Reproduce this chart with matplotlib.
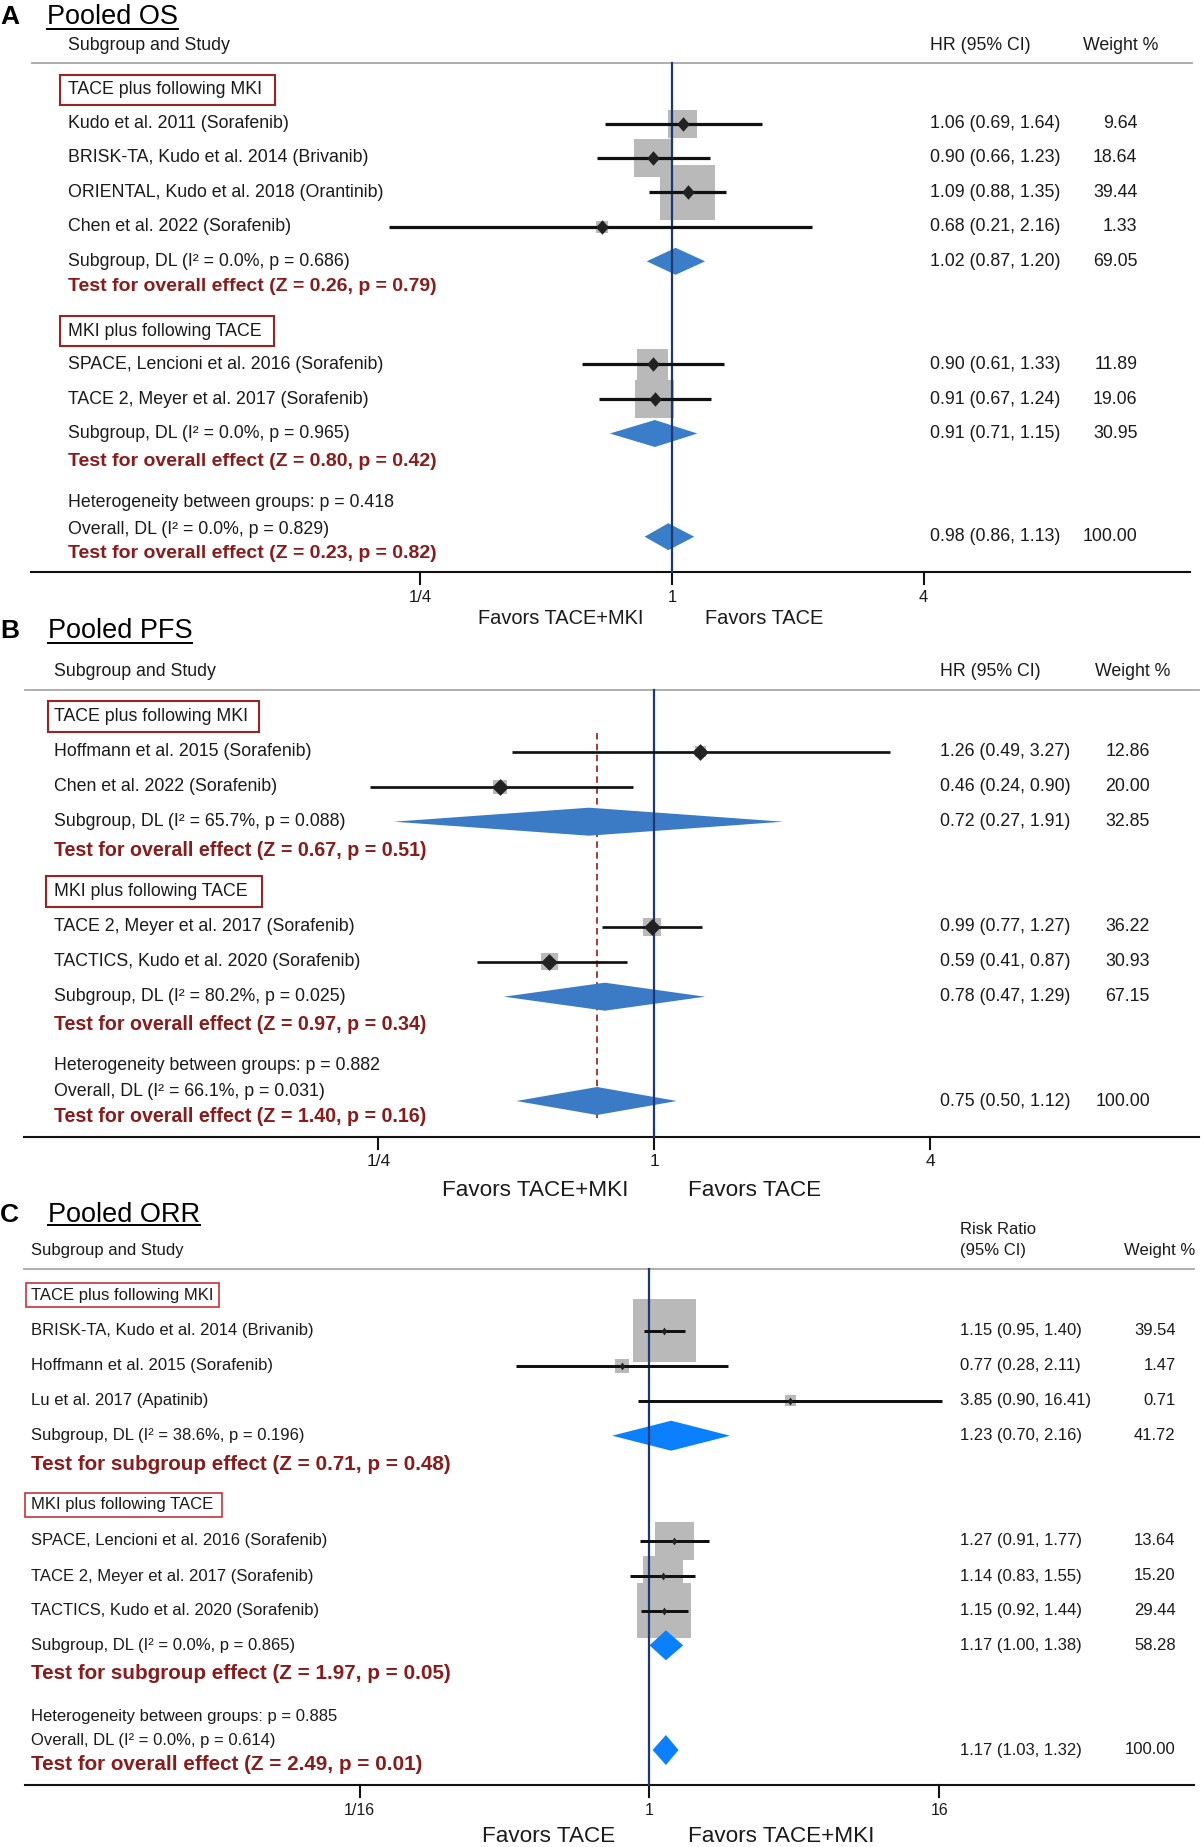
import matplotlib.pyplot as plt
from matplotlib.patches import Rectangle, Polygon

plt.rcParams['font.family'] = ['Liberation Sans', 'DejaVu Sans']

W, H = 1204, 1847

# ---------------- A: pooled OS ----------------
os_study = ["Kudo et al. 2011 (Sorafenib)",
            "BRISK-TA, Kudo et al. 2014 (Brivanib)",
            "ORIENTAL, Kudo et al. 2018 (Orantinib)",
            "Chen et al. 2022 (Sorafenib)",
            "SPACE, Lencioni et al. 2016 (Sorafenib)",
            "TACE 2, Meyer et al. 2017 (Sorafenib)"]
os_hr = [1.06, 0.90, 1.09, 0.68, 0.90, 0.91]
os_lo = [0.69, 0.66, 0.88, 0.21, 0.61, 0.67]
os_hi = [1.64, 1.23, 1.35, 2.16, 1.33, 1.24]
os_wt = [9.64, 18.64, 39.44, 1.33, 11.89, 19.06]
os_sub_hr = [1.02, 0.91, 0.98]
os_sub_lo = [0.87, 0.71, 0.86]
os_sub_hi = [1.20, 1.15, 1.13]
os_sub_wt = [69.05, 30.95, 100.00]
os_sub_i2 = ["0.0%", "0.0%", "0.0%"]
os_sub_p = ["0.686", "0.965", "0.829"]
os_z = ["0.26", "0.80", "0.23"]
os_zp = ["0.79", "0.42", "0.82"]
os_het = "0.418"

# ---------------- B: pooled PFS ----------------
pfs_study = ["Hoffmann et al. 2015 (Sorafenib)",
             "Chen et al. 2022 (Sorafenib)",
             "TACE 2, Meyer et al. 2017 (Sorafenib)",
             "TACTICS, Kudo et al. 2020 (Sorafenib)"]
pfs_hr = [1.26, 0.46, 0.99, 0.59]
pfs_lo = [0.49, 0.24, 0.77, 0.41]
pfs_hi = [3.27, 0.90, 1.27, 0.87]
pfs_wt = [12.86, 20.00, 36.22, 30.93]
pfs_sub_hr = [0.72, 0.78, 0.75]
pfs_sub_lo = [0.27, 0.47, 0.50]
pfs_sub_hi = [1.91, 1.29, 1.12]
pfs_sub_wt = [32.85, 67.15, 100.00]
pfs_sub_i2 = ["65.7%", "80.2%", "66.1%"]
pfs_sub_p = ["0.088", "0.025", "0.031"]
pfs_z = ["0.67", "0.97", "1.40"]
pfs_zp = ["0.51", "0.34", "0.16"]
pfs_het = "0.882"

# ---------------- C: pooled ORR ----------------
orr_study = ["BRISK-TA, Kudo et al. 2014 (Brivanib)",
             "Hoffmann et al. 2015 (Sorafenib)",
             "Lu et al. 2017 (Apatinib)",
             "SPACE, Lencioni et al. 2016 (Sorafenib)",
             "TACE 2, Meyer et al. 2017 (Sorafenib)",
             "TACTICS, Kudo et al. 2020 (Sorafenib)"]
orr_rr = [1.15, 0.77, 3.85, 1.27, 1.14, 1.15]
orr_lo = [0.95, 0.28, 0.90, 0.91, 0.83, 0.92]
orr_hi = [1.40, 2.11, 16.41, 1.77, 1.55, 1.44]
orr_wt = [39.54, 1.47, 0.71, 13.64, 15.20, 29.44]
orr_sub_rr = [1.23, 1.17, 1.17]
orr_sub_lo = [0.70, 1.00, 1.03]
orr_sub_hi = [2.16, 1.38, 1.32]
orr_sub_wt = [41.72, 58.28, 100.00]
orr_sub_i2 = ["38.6%", "0.0%", "0.0%"]
orr_sub_p = ["0.196", "0.865", "0.614"]
orr_z = ["0.71", "1.97", "2.49"]
orr_zp = ["0.48", "0.05", "0.01"]
orr_het = "0.885"

groups = ["TACE plus following MKI", "MKI plus following TACE"]

TXT = '#1a1a1a'
RED = '#8b1a1a'
NAVY = '#1f3774'
GRAY = '#b9b9b9'

fig = plt.figure(figsize=(W / 100, H / 100), dpi=100)


def fx(p):
    return p / W


def panel(L, study, est, lo, hi, wt, s_est, s_lo, s_hi, s_wt, s_i2, s_p, zs, zps, het):
    ax = fig.add_axes([0, 0, 1, 1])
    ax.set_xscale('log', base=2)
    ax.set_xlim(2 ** (-L['null'] / L['per']), 2 ** ((W - L['null']) / L['per']))
    ax.set_ylim(H, 0)
    ax.axis('off')
    ax.patch.set_alpha(0)
    tr = ax.get_yaxis_transform()
    fs = L['fs']

    # panel letter and underlined title
    ax.text(fx(0), L['title_y'] + 1, L['letter'], transform=tr, ha='left', va='center',
            fontsize=19, fontweight='bold', color='black')
    tt = ax.text(fx(L['title_x']), L['title_y'] + 1, L['title'], transform=tr, ha='left',
                 va='center', fontsize=19.5, color='black')
    L['_title'] = (ax, tt)

    # column headers
    ax.text(fx(L['xl']), L['head_y'], "Subgroup and Study", transform=tr, ha='left',
            va='center', fontsize=fs, color=TXT)
    for k, line in enumerate(L['col_head']):
        ax.text(fx(L['col_x']), L['col_head_y'][k], line, transform=tr, ha='left',
                va='center', fontsize=fs, color=TXT)
    ax.text(fx(L['wt_head']), L['head_y'], "Weight %", transform=tr, ha='left',
            va='center', fontsize=fs, color=TXT)
    ax.plot([fx(L['line_x'][0]), fx(L['line_x'][1])], [L['gray_y']] * 2, transform=tr,
            color='#a8a8a8', lw=1.3, clip_on=False)

    # group headers in red boxes
    for g in range(2):
        yb = L['box_y'][g]
        x0, x1 = L['box_x'][g]
        ax.add_patch(Rectangle((fx(x0), yb - L['box_h'] / 2), fx(x1 - x0), L['box_h'],
                               transform=tr, fill=False, ec=L['box_ec'], lw=L['box_lw'],
                               clip_on=False))
        ax.text(fx(L['xl']), yb, groups[g], transform=tr, ha='left', va='center',
                fontsize=fs, color=TXT)

    # studies
    k, c = L['box_k']
    dm = L['dmark']
    verts = [(0, 1), (dm[0] / dm[1], 0), (0, -1), (-dm[0] / dm[1], 0)]
    for i, name in enumerate(study):
        y = L['study_y'][i]
        ax.text(fx(L['xl']), y, name, transform=tr, ha='left', va='center',
                fontsize=fs, color=TXT)
        side = k * wt[i] ** 0.5 + c
        half = side / 2 / L['per']
        x0, x1 = est[i] * 2 ** (-half), est[i] * 2 ** half
        ax.add_patch(Rectangle((x0, y - side / 2), x1 - x0, side, fc=GRAY, ec='none',
                               zorder=2))
        ax.plot([lo[i], hi[i]], [y, y], color='#111111', lw=L['ci_lw'], zorder=5,
                solid_capstyle='butt')
        ax.plot([est[i]], [y], marker=verts, ms=dm[1] / 1.389, color='#222222',
                mec='none', zorder=6)
        ax.text(fx(L['col_x']), y, f"{est[i]:.2f} ({lo[i]:.2f}, {hi[i]:.2f})",
                transform=tr, ha='left', va='center', fontsize=fs, color=TXT)
        ax.text(fx(L['wt_r']), y, f"{wt[i]:.2f}", transform=tr, ha='right',
                va='center', fontsize=fs, color=TXT)

    # pooled diamonds (two subgroups + overall)
    dy = L['dia_h'] / 2
    d_y = L['sub_y'] + [L['all_d']]
    for j in range(3):
        y = d_y[j]
        ax.add_patch(Polygon([(s_lo[j], y), (s_est[j], y - dy), (s_hi[j], y),
                              (s_est[j], y + dy)], closed=True, fc=L['dia_c'],
                             ec='none', zorder=3))
        ax.text(fx(L['col_x']), y, f"{s_est[j]:.2f} ({s_lo[j]:.2f}, {s_hi[j]:.2f})",
                transform=tr, ha='left', va='center', fontsize=fs, color=TXT)
        ax.text(fx(L['wt_r']), y, f"{s_wt[j]:.2f}", transform=tr, ha='right',
                va='center', fontsize=fs, color=TXT)
        if j < 2:
            ax.text(fx(L['xl']), y, f"Subgroup, DL (I² = {s_i2[j]}, p = {s_p[j]})",
                    transform=tr, ha='left', va='center', fontsize=fs, color=TXT)
            word = L['test_word']
            ty = L['test_y'][j]
        else:
            ax.text(fx(L['xl']), L['het_y'], f"Heterogeneity between groups: p = {het}",
                    transform=tr, ha='left', va='center', fontsize=fs, color=TXT)
            ax.text(fx(L['xl']), L['all_y'], f"Overall, DL (I² = {s_i2[j]}, p = {s_p[j]})",
                    transform=tr, ha='left', va='center', fontsize=fs, color=TXT)
            word = 'overall'
            ty = L['all_test']
        ax.text(fx(L['xl']), ty, f"Test for {word} effect (Z = {zs[j]}, p = {zps[j]})",
                transform=tr, ha='left', va='center', fontsize=L['tfs'],
                fontweight='bold', color=RED)

    if L.get('dash'):
        ax.plot([s_est[2], s_est[2]], L['dash'], color='#a82828', lw=1.3,
                ls=(0, (3.6, 2.4)), zorder=2.5)

    # null line and x axis
    ax.plot([1, 1], [L['gray_y'], L['axis_y']], color=NAVY, lw=1.6, zorder=4)
    ax.plot([fx(L['axis_x'][0]), fx(L['axis_x'][1])], [L['axis_y']] * 2, transform=tr,
            color='#111111', lw=1.5, clip_on=False)
    for v, lab in zip(L['ticks'], L['tick_labels']):
        ax.plot([v, v], [L['axis_y'], L['axis_y'] + 12], color='#111111', lw=1.5)
        ax.text(v, L['tick_y'], lab, ha='center', va='center', fontsize=L['tickfs'],
                color=TXT)
    for xc, lab in zip(L['fav_x'], L['fav']):
        ax.text(fx(xc), L['fav_y'], lab, transform=tr, ha='center', va='center',
                fontsize=L['favfs'], color=TXT)
    return ax


LA = dict(letter='A', title='Pooled OS', null=672.0, per=125.8, xl=68, fs=12.8, tfs=14,
          title_x=46.7, title_y=16, uline=29.3, head_y=45.7,
          col_head=["HR (95% CI)"], col_head_y=[45.7], col_x=930.5, wt_head=1083.4, wt_r=1137.4,
          gray_y=62.7, line_x=(31.8, 1191.7),
          box_y=[89.5, 331], box_x=[(60, 274.8), (60, 274)], box_h=30, box_ec='#9a2424', box_lw=1.5,
          study_y=[123.7, 158, 192.3, 226.7, 364.3, 399], box_k=(8.41, 2.2),
          dmark=(12.7, 14.5), ci_lw=2.3,
          sub_y=[261.3, 433.5], test_y=[286.7, 461], test_word='overall',
          het_y=502.7, all_y=529.3, all_d=536.7, all_test=553.3,
          dia_h=27, dia_c='#3a7dc8',
          axis_y=571.7, axis_x=(30.7, 1190), tick_y=597, tickfs=12,
          ticks=[0.25, 1, 4], tick_labels=["1/4", "1", "4"],
          fav_y=618.3, fav_x=[560.3, 763.7], fav=["Favors TACE+MKI", "Favors TACE"], favfs=14.4)

LB = dict(letter='B', title='Pooled PFS', null=654.3, per=138.0, xl=53.7, fs=12.8, tfs=14.1,
          title_x=47.5, title_y=630, uline=642.7, head_y=671.7,
          col_head=["HR (95% CI)"], col_head_y=[671.7], col_x=940, wt_head=1095, wt_r=1150,
          gray_y=690, line_x=(24.5, 1199),
          box_y=[716.7, 891.7], box_x=[(47.5, 259.2), (46, 262.3)], box_h=31, box_ec='#9a2424', box_lw=1.5,
          study_y=[751.7, 786.7, 926.7, 961.7], box_k=(3.05, 0),
          dmark=(16.7, 16.7), ci_lw=1.95,
          sub_y=[821.7, 996.7], test_y=[850, 1024], test_word='overall',
          het_y=1066, all_y=1092, all_d=1101, all_test=1117,
          dia_h=28, dia_c='#3b7bc5', dash=[733, 1118],
          axis_y=1136.7, axis_x=(23.5, 1199), tick_y=1162, tickfs=12.5,
          ticks=[0.25, 1, 4], tick_labels=["1/4", "1", "4"],
          fav_y=1190, fav_x=[535, 755], fav=["Favors TACE+MKI", "Favors TACE"], favfs=16.2)

LC = dict(letter='C', title='Pooled ORR', null=649.5, per=72.46, xl=31, fs=12, tfs=14.9,
          title_x=47.7, title_y=1214, uline=1225, head_y=1251,
          col_head=["Risk Ratio", "(95% CI)"], col_head_y=[1229, 1251], col_x=960,
          wt_head=1123.5, wt_r=1175.6,
          gray_y=1269.3, line_x=(24, 1194),
          box_y=[1295.3, 1505], box_x=[(26.3, 219.3), (25.3, 222.4)], box_h=24, box_ec='#c8323c', box_lw=1.2,
          study_y=[1330.7, 1365.7, 1400.7, 1540.7, 1576, 1610.7], box_k=(9.62, 2.5),
          dmark=(5.7, 7.7), ci_lw=2.15,
          sub_y=[1435.7, 1645.3], test_y=[1464, 1673.3], test_word='subgroup',
          het_y=1716, all_y=1740.7, all_d=1750, all_test=1765,
          dia_h=30, dia_c='#0b80ff',
          axis_y=1785, axis_x=(24.5, 1194), tick_y=1810.7, tickfs=11.5,
          ticks=[1 / 16, 1, 16], tick_labels=["1/16", "1", "16"],
          fav_y=1836.7, fav_x=[548.7, 781], fav=["Favors TACE", "Favors TACE+MKI"], favfs=16.2)

panel(LA, os_study, os_hr, os_lo, os_hi, os_wt, os_sub_hr, os_sub_lo, os_sub_hi, os_sub_wt,
      os_sub_i2, os_sub_p, os_z, os_zp, os_het)
panel(LB, pfs_study, pfs_hr, pfs_lo, pfs_hi, pfs_wt, pfs_sub_hr, pfs_sub_lo, pfs_sub_hi,
      pfs_sub_wt, pfs_sub_i2, pfs_sub_p, pfs_z, pfs_zp, pfs_het)
panel(LC, orr_study, orr_rr, orr_lo, orr_hi, orr_wt, orr_sub_rr, orr_sub_lo, orr_sub_hi,
      orr_sub_wt, orr_sub_i2, orr_sub_p, orr_z, orr_zp, orr_het)

# underline the titles using their rendered width
fig.canvas.draw()
r = fig.canvas.get_renderer()
for L in (LA, LB, LC):
    ax, tt = L['_title']
    bb = tt.get_window_extent(r)
    ax.plot([fx(bb.x0), fx(bb.x1)], [L['uline']] * 2, transform=ax.get_yaxis_transform(),
            color='black', lw=1.4, clip_on=False)

fig.savefig('out.png', dpi=100, facecolor='white')
